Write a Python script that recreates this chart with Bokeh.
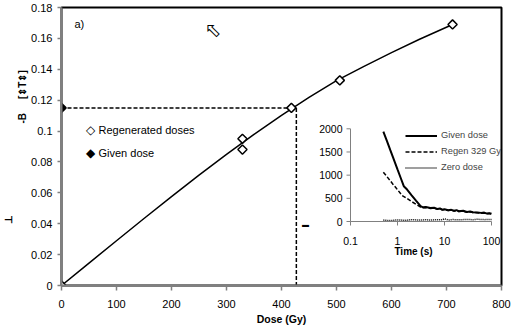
import math
from bokeh.plotting import figure
from bokeh.models import (Range1d, LogScale, FixedTicker, Legend, LegendItem, Label, Title)
from bokeh.embed import file_html
from bokeh.resources import INLINE
from bokeh.core.properties import value

# ---------------- data ----------------
# main chart: dose-response
regen_dose = [0, 329, 329, 418, 506, 711]
regen_signal = [0.0, 0.095, 0.088, 0.115, 0.1328, 0.169]
given_dose = [0]
given_signal = [0.115]
fit_dose = [0, 50, 100, 150, 200, 250, 300, 350, 400, 450, 500, 550, 600, 650, 711]
fit_signal = [0.0, 0.0145, 0.0290, 0.0434, 0.0576, 0.0715, 0.0849, 0.0978, 0.1102,
              0.1218, 0.1326, 0.1419, 0.1508, 0.1593, 0.1690]
equiv_dose = 427           # interpolated equivalent dose (dashed lines)
equiv_signal = 0.115

x_ticks = [0, 100, 200, 300, 400, 500, 600, 700, 800]
y_ticks = [0, 0.02, 0.04, 0.06, 0.08, 0.1, 0.12, 0.14, 0.16, 0.18]
y_tick_labels = ["0", "0.02", "0.04", "0.06", "0.08", "0.1", "0.12", "0.14", "0.16", "0.18"]
legend_labels = ["Regenerated doses", "Given dose"]

# inset: decay curves
given_t = [0.5, 0.6, 0.7, 0.8, 0.9, 1.0, 1.15, 1.36, 1.6, 2.0, 2.5, 3.1, 3.5, 4, 5, 6, 7, 8, 9,
           10, 12, 14, 16, 18, 20, 25, 30, 35, 40, 50, 60, 70, 80, 90, 100]
given_counts = [1940, 1730, 1545, 1390, 1250, 1125, 960, 762, 690, 565, 445, 330, 305, 312, 290,
                296, 272, 282, 256, 266, 242, 252, 231, 246, 222, 232, 206, 216, 201, 196, 186,
                192, 171, 181, 166]
regen_t = [0.5, 0.6, 0.7, 0.8, 0.9, 1.0, 1.26, 1.6, 2.0, 2.5, 3.1, 3.5, 4, 5, 6, 7, 8, 9, 10,
           12, 14, 16, 18, 20, 25, 30, 35, 40, 50, 60, 70, 80, 90, 100]
regen_counts = [1063, 965, 880, 805, 745, 685, 560, 495, 430, 370, 310, 298, 302, 282, 288, 264,
                272, 248, 258, 236, 244, 224, 238, 216, 224, 200, 208, 194, 190, 180, 184, 166,
                174, 160]
zero_t = [0.5, 0.7, 1.0, 1.5, 2.0, 3.0, 4.0, 5.0, 7.0, 9.0, 10, 12, 15, 20, 30, 40, 50, 70, 100]
zero_counts = [30, 20, 35, 25, 40, 30, 38, 30, 40, 35, 60, 30, 42, 36, 45, 38, 48, 40, 45]

inset_x_ticks = [0.1, 1, 10, 100]
inset_x_labels = ["0.1", "1", "10", "100"]
inset_y_ticks = [0, 500, 1000, 1500, 2000]
inset_y_labels = ["0", "500", "1000", "1500", "2000"]
inset_legend_labels = ["Given dose", "Regen 329 Gy", "Zero dose"]

# ---------------- layout helpers ----------------
FL, FR, FT, FB = 61, 501, 7, 285          # frame in canvas pixels
W, H = 514, 329
XMAX, YMAX = 800.0, 0.18

def dx(px):
    return (px - FL) / (FR - FL) * XMAX

def dy(py):
    return (FB - py) / (FB - FT) * YMAX

# inset placement (canvas px)
IX0, IX1 = 350, 491        # t = 0.1 .. 100
IY0, IY1 = 221, 128.3      # counts = 0 .. 2000
ppd = (IX1 - IX0) / 3.0
lo = -1 - (IX0 - FL) / ppd
hi = 2 + (FR - IX1) / ppd
cpp = 2000.0 / (IY0 - IY1)
ylo = -(FB - IY0) * cpp
yhi = 2000 + (IY1 - FT) * cpp

FONT = "Liberation Sans"

p = figure(width=W, height=H, output_backend="svg", toolbar_location=None,
           x_range=Range1d(0, XMAX), y_range=Range1d(0, YMAX),
           min_border_left=FL, min_border_right=W - FR, min_border_top=FT,
           min_border_bottom=H - FB)
p.extra_x_ranges = {"inset": Range1d(10 ** lo, 10 ** hi)}
p.extra_x_scales = {"inset": LogScale()}
p.extra_y_ranges = {"inset": Range1d(ylo, yhi)}

p.xgrid.visible = False
p.ygrid.visible = False
p.background_fill_color = "white"
p.border_fill_color = "white"
p.outline_line_color = "black"
p.outline_line_width = 2

p.xaxis.ticker = FixedTicker(ticks=x_ticks)
p.yaxis.ticker = FixedTicker(ticks=y_ticks)
p.yaxis.major_label_overrides = {t: l for t, l in zip(y_ticks, y_tick_labels)}
for ax in (p.xaxis, p.yaxis):
    ax.axis_line_color = "#808080"
    ax.axis_line_width = 2
    ax.major_tick_line_color = "#808080"
    ax.major_tick_line_width = 1.5
    ax.major_tick_in = 0
    ax.minor_tick_line_color = None
    ax.major_label_text_font = FONT
    ax.major_label_text_font_size = "11px"
    ax.major_label_text_color = "black"
p.xaxis.major_tick_out = 5
p.xaxis.major_label_standoff = 9
p.yaxis.major_tick_out = 4
p.yaxis.major_label_standoff = 5
p.xaxis.axis_label = "Dose (Gy)"
p.xaxis.axis_label_text_font = FONT
p.xaxis.axis_label_text_font_size = "10.5px"
p.xaxis.axis_label_text_font_style = "bold"
p.xaxis.axis_label_standoff = 2
p.xaxis.axis_label_text_color = "black"

# garbled y-axis title fragments (placed in the left border)
p.add_layout(Title(text="-B" + "\u00a0" * 5 + "[⇕T⇕]", align="left", offset=162, standoff=2,
                   text_font=FONT, text_font_size="10px", text_font_style="bold",
                   text_color="black"), "left")
p.add_layout(Title(text="⊥", align="left", offset=62, standoff=0,
                   text_font=FONT, text_font_size="10px", text_font_style="bold",
                   text_color="black"), "left")

# ---------------- main glyphs ----------------
p.line(x=[given_dose[0], equiv_dose], y=[equiv_signal, equiv_signal], line_color="black",
       line_width=1.5, line_dash="4 2")
p.line(x=[equiv_dose, equiv_dose], y=[equiv_signal, 0], line_color="black",
       line_width=1.5, line_dash="4 2")
p.line(x=fit_dose, y=fit_signal, line_color="black", line_width=1.5)
r_regen = p.scatter(x=regen_dose, y=regen_signal, marker="square", angle=math.pi / 4,
                    size=6.5, fill_color="white", line_color="black", line_width=1.5)
r_given = p.scatter(x=given_dose, y=given_signal, marker="square", angle=math.pi / 4,
                    size=6.5, fill_color="black", line_color="black", line_width=1.5)

def lab(px, py, text, size="11px", style="normal", angle=0.0, align="left",
        font=FONT, color="black"):
    p.add_layout(Label(x=dx(px), y=dy(py), text=text, text_font=font, text_font_size=size,
                       text_font_style=style, angle=angle, text_align=align,
                       text_baseline="middle", text_color=color))

# legend of the main chart (diamond symbol + label)
lab(90, 129, "◇", size="12px", style="bold", align="center", font="DejaVu Sans")
lab(98, 129, legend_labels[0])
lab(90, 152, "◆", size="12px", align="center", font="DejaVu Sans")
lab(98, 152, legend_labels[1])

# ---------------- inset ----------------
ik = dict(x_range_name="inset", y_range_name="inset")
r_g = p.line(x=given_t, y=given_counts, line_color="black", line_width=2, **ik)
r_r = p.line(x=regen_t, y=regen_counts, line_color="black", line_width=1.5, line_dash="4 2", **ik)
r_z = p.line(x=zero_t, y=zero_counts, line_color="black", line_width=1.5, line_dash="1 1", **ik)

ax_col = "#808080"
p.line(x=[inset_x_ticks[0], inset_x_ticks[-1]], y=[inset_y_ticks[0], inset_y_ticks[0]],
       line_color=ax_col, line_width=1, **ik)
p.line(x=[inset_x_ticks[0], inset_x_ticks[0]], y=[inset_y_ticks[0], inset_y_ticks[-1]],
       line_color=ax_col, line_width=1, **ik)
p.ray(x=inset_x_ticks, y=[inset_y_ticks[0]] * len(inset_x_ticks), length=4,
      length_units="screen", angle=-math.pi / 2, line_color=ax_col, line_width=1, **ik)
p.ray(x=[inset_x_ticks[0]] * len(inset_y_ticks), y=inset_y_ticks, length=4,
      length_units="screen", angle=math.pi, line_color=ax_col, line_width=1, **ik)
p.text(x=inset_x_ticks, y=[inset_y_ticks[0]] * len(inset_x_ticks), text=inset_x_labels,
       y_offset=19, text_align="center", text_baseline="middle",
       text_font=value(FONT), text_font_size="10.5px", text_color="black", **ik)
p.text(x=[inset_x_ticks[0]] * len(inset_y_ticks), y=inset_y_ticks, text=inset_y_labels,
       x_offset=-8, text_align="right", text_baseline="middle",
       text_font=value(FONT), text_font_size="10.5px", text_color="black", **ik)

leg2 = Legend(items=[LegendItem(label=inset_legend_labels[0], renderers=[r_g]),
                     LegendItem(label=inset_legend_labels[1], renderers=[r_r]),
                     LegendItem(label=inset_legend_labels[2], renderers=[r_z])],
              location=(405 - FL, FB - 173.5), orientation="vertical",
              glyph_width=32, glyph_height=13, label_height=13, spacing=3,
              label_standoff=4, padding=0, margin=0,
              background_fill_alpha=0, border_line_color=None,
              label_text_font=FONT, label_text_font_size="9.3px")
p.add_layout(leg2, "center")

lab(413, 251, "Time (s)", size="10px", style="bold", align="center")
lab(74, 23, "a)")
lab(305, 224, "▬", size="7px", style="bold", align="center")
# mouse cursor
lab(204, 29, "⬁", size="20px", font="DejaVu Sans")

open("out.html", "w").write(file_html(p, INLINE))
